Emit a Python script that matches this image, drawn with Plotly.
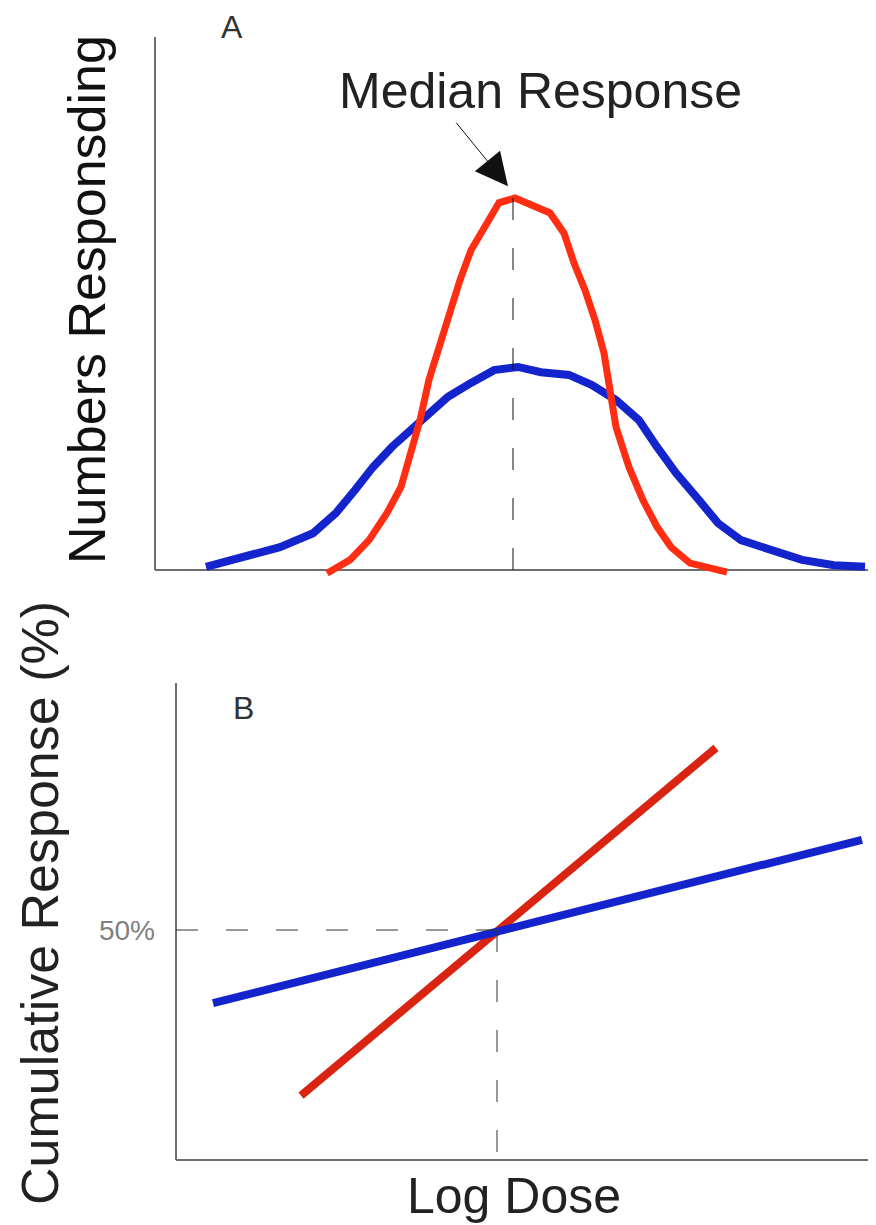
import plotly.graph_objects as go

# ---------------- Data ----------------
# Panel A: frequency distributions (x = log dose relative to median, y = numbers responding)
red_a_x = [-1.86, -1.63, -1.44, -1.26, -1.12, -1.02, -0.93, -0.84, -0.74, -0.65,
           -0.53, -0.42, -0.28, -0.14, 0.02, 0.23, 0.37, 0.51, 0.61, 0.72,
           0.82, 0.91, 0.96, 1.03, 1.16, 1.30, 1.44, 1.58, 1.77, 2.14]
red_a_y = [-0.6, 1.9, 5.6, 10.7, 15.6, 22.0, 28.1, 35.7, 41.8, 46.9,
           54.4, 60.0, 64.4, 68.9, 69.8, 68.1, 67.0, 63.2, 57.6, 52.5,
           46.9, 40.7, 34.3, 26.8, 19.3, 13.1, 8.1, 4.3, 1.3, -0.4]
blue_a_x = [-3.07, -2.70, -2.33, -2.00, -1.77, -1.58, -1.40, -1.21, -1.02, -0.84,
            -0.65, -0.42, -0.19, 0.05, 0.28, 0.56, 0.79, 1.03, 1.26, 1.44,
            1.63, 1.86, 2.05, 2.28, 2.56, 2.89, 3.21, 3.52]
blue_a_y = [0.6, 2.4, 4.3, 6.9, 10.7, 15.0, 19.3, 23.1, 26.3, 29.5,
            32.5, 35.1, 37.5, 38.1, 37.1, 36.6, 34.7, 31.9, 28.1, 23.1,
            18.2, 13.1, 8.8, 5.6, 3.8, 1.9, 0.9, 0.6]
median_dose = 0.0
red_peak = 70.0

# Panel B: cumulative response (%) vs log dose
red_b_x = [-1.96, 2.19]
red_b_y = [14.0, 89.6]
blue_b_x = [-2.84, 3.65]
blue_b_y = [34.1, 69.6]
half_response = 50
tick_vals_b = [50]
tick_text_b = ["50%"]

# ---------------- Styling / layout helpers ----------------
FONT = "Liberation Sans, Arial, Helvetica, sans-serif"
AXIS_COLOR = "#6e6e6e"
RED_A = "#ff2d12"
RED_B = "#d92412"
BLUE = "#1424cc"
DASH = "22px,28px"

OFF = 8            # page body margin in the browser
W, H = 876 - OFF, 1225 - OFF


def px_x(p):
    return (p - OFF) / W


def px_y(p):
    return 1 - (p - OFF) / H


# axis extents (data units)
xa_axis, xa_max = -3.58, 3.63
ya_top = 100
xb_axis, xb_max = -3.21, 3.79
yb_top = 103.7

fig = go.Figure()

fig.add_trace(go.Scatter(x=blue_a_x, y=blue_a_y, mode="lines",
                         line=dict(color=BLUE, width=8), xaxis="x", yaxis="y",
                         showlegend=False, hoverinfo="skip"))
fig.add_trace(go.Scatter(x=red_a_x, y=red_a_y, mode="lines",
                         line=dict(color=RED_A, width=7), xaxis="x", yaxis="y",
                         showlegend=False, hoverinfo="skip"))

fig.add_trace(go.Scatter(x=red_b_x, y=red_b_y, mode="lines",
                         line=dict(color=RED_B, width=8), xaxis="x2", yaxis="y2",
                         showlegend=False, hoverinfo="skip"))
fig.add_trace(go.Scatter(x=blue_b_x, y=blue_b_y, mode="lines",
                         line=dict(color=BLUE, width=8), xaxis="x2", yaxis="y2",
                         showlegend=False, hoverinfo="skip"))

shapes = [
    # Panel A axes
    dict(type="line", xref="x", yref="y", x0=xa_axis, x1=xa_axis, y0=0, y1=ya_top,
         line=dict(color=AXIS_COLOR, width=2), layer="below"),
    dict(type="line", xref="x", yref="y", x0=xa_axis, x1=xa_max, y0=0, y1=0,
         line=dict(color=AXIS_COLOR, width=2), layer="below"),
    # Panel A median line
    dict(type="line", xref="x", yref="y", x0=median_dose, x1=median_dose, y0=0, y1=red_peak,
         line=dict(color="#111111", width=1, dash=DASH), layer="above"),
    # Panel B axes
    dict(type="line", xref="x2", yref="y2", x0=xb_axis, x1=xb_axis, y0=0, y1=yb_top,
         line=dict(color=AXIS_COLOR, width=2), layer="below"),
    dict(type="line", xref="x2", yref="y2", x0=xb_axis, x1=xb_max, y0=0, y1=0,
         line=dict(color=AXIS_COLOR, width=2), layer="below"),
    # Panel B 50% guides
    dict(type="line", xref="x2", yref="y2", x0=xb_axis, x1=median_dose,
         y0=half_response, y1=half_response,
         line=dict(color="#333333", width=1, dash=DASH), layer="above"),
    dict(type="line", xref="x2", yref="y2", x0=median_dose, x1=median_dose,
         y0=half_response, y1=0,
         line=dict(color="#333333", width=1, dash=DASH), layer="above"),
]

annotations = [
    dict(text="A", xref="paper", yref="paper", x=px_x(232), y=1,
         showarrow=False, font=dict(family=FONT, size=32, color="#333333"),
         xanchor="center", yanchor="top", borderpad=0),
    dict(text="B", xref="paper", yref="paper", x=px_x(243), y=px_y(708),
         showarrow=False, font=dict(family=FONT, size=32, color="#333333"),
         xanchor="center", yanchor="middle"),
    dict(text="Median Response", xref="paper", yref="paper", x=px_x(540), y=px_y(91),
         showarrow=False, font=dict(family=FONT, size=50, color="#222222"),
         xanchor="center", yanchor="middle"),
    dict(text="", xref="x", yref="y", x=median_dose - 0.05, y=red_peak + 2,
         showarrow=True, arrowhead=2, arrowsize=6.5, arrowwidth=1,
         arrowcolor="#111111", ax=-53, ay=-65),
    dict(text="Numbers Responsding", xref="paper", yref="paper", x=px_x(87), y=px_y(300),
         showarrow=False, textangle=-90, font=dict(family=FONT, size=52, color="#111111"),
         xanchor="center", yanchor="middle"),
    dict(text="Cumulative Response (%)", xref="paper", yref="paper", x=px_x(40), y=px_y(903),
         showarrow=False, textangle=-90, font=dict(family=FONT, size=52, color="#222222"),
         xanchor="center", yanchor="middle"),
    dict(text="Log Dose", xref="paper", yref="paper", x=px_x(514), y=px_y(1196),
         showarrow=False, font=dict(family=FONT, size=50, color="#222222"),
         xanchor="center", yanchor="middle"),
]

fig.update_layout(
    width=W, height=H,
    margin=dict(l=0, r=0, t=0, b=0),
    paper_bgcolor="white", plot_bgcolor="white",
    showlegend=False,
    shapes=shapes,
    annotations=annotations,
    xaxis=dict(domain=[px_x(151), 1], range=[-3.62, 3.63], showgrid=False,
               zeroline=False, showline=False, showticklabels=False, ticks="",
               fixedrange=True),
    yaxis=dict(domain=[px_y(586), px_y(31.7)], range=[-3, 101], showgrid=False,
               zeroline=False, showline=False, showticklabels=False, ticks="",
               fixedrange=True),
    xaxis2=dict(domain=[px_x(172), 1], range=[-3.25, 3.79], showgrid=False,
                zeroline=False, showline=False, showticklabels=False, ticks="",
                anchor="y2", fixedrange=True),
    yaxis2=dict(domain=[px_y(1173.8), px_y(677)], range=[-3, 105], showgrid=False,
                zeroline=False, showline=False, showticklabels=True, ticks="",
                tickvals=tick_vals_b, ticktext=tick_text_b,
                tickfont=dict(family=FONT, size=28, color="#808080"),
                ticklabelstandoff=16,
                anchor="x2", fixedrange=True),
)

fig.write_html("out.html")
